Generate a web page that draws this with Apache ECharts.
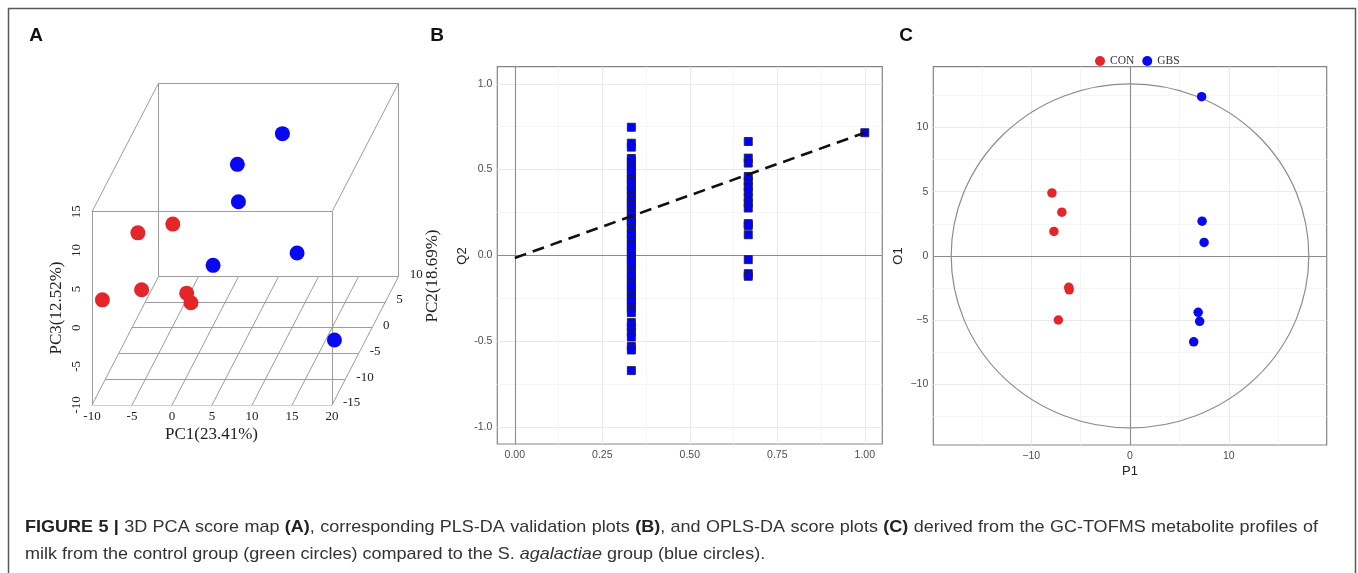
<!DOCTYPE html>
<html>
<head>
<meta charset="utf-8">
<script src="https://cdn.jsdelivr.net/npm/echarts@6/dist/echarts.min.js"></script>
<style>
html,body{margin:0;padding:0;background:#fff;}
#chart{width:1358px;height:573px;}
</style>
</head>
<body>
<div id="chart"></div>
<script>
// ---------- Panel A: 3D PCA scores [PC1, PC2, PC3] ----------
const pcaCON = [[-8.6, -2, 3.6], [-5.9, 3, 1.4], [-9.7, -12, 1.6], [-5.8, -9, 0.9], [-1.5, -5, -2.2], [-0.3, -7, -2.1]];
const pcaGBS = [[6.8, 6, 11.1], [2.5, 2, 9.8], [4.3, -3, 8.3], [9.3, 4, -3.0], [-0.2, 1, -2.6], [19.3, -12, -3.6]];
const pc1Ticks = [-10, -5, 0, 5, 10, 15, 20];
const pc2Ticks = [-15, -10, -5, 0, 5, 10];
const pc3Ticks = [-10, -5, 0, 5, 10, 15];

// ---------- Panel B: permutation test (R2 vs Q2) ----------
const permR2A = 0.333;
const permQ2A = [0.747, 0.654, 0.631, 0.565, 0.548, 0.521, 0.503, 0.478, 0.452, 0.437, 0.409, 0.386, 0.371,
  0.342, 0.318, 0.297, 0.276, 0.251, 0.223, 0.204, 0.187, 0.158, 0.132, 0.118, 0.091, 0.064, 0.046, 0.021,
  -0.003, -0.027, -0.048, -0.072, -0.101, -0.119, -0.142, -0.171, -0.188, -0.213, -0.239, -0.262, -0.281,
  -0.309, -0.334, -0.392, -0.418, -0.447, -0.476, -0.531, -0.552, -0.672];
const permR2B = 0.667;
const permQ2B = [0.664, 0.567, 0.538, 0.460, 0.431, 0.402, 0.373, 0.334, 0.305, 0.276, 0.185, 0.173, 0.120, -0.025, -0.107, -0.122];
const origModel = [1.0, 0.715];
const q2Regression = [[0, -0.015], [1, 0.715]];
const bXTicks = [0, 0.25, 0.5, 0.75, 1];
const bXMinor = [0.125, 0.375, 0.625, 0.875];
const bYTicks = [-1, -0.5, 0, 0.5, 1];
const bYMinor = [-0.75, -0.25, 0.25, 0.75];

// ---------- Panel C: OPLS-DA scores [P1, O1] ----------
const oplsCON = [[-7.9, 4.9], [-6.9, 3.4], [-7.7, 1.9], [-6.2, -2.45], [-6.15, -2.65], [-7.25, -5.0]];
const oplsGBS = [[7.25, 12.4], [7.3, 2.7], [7.5, 1.05], [6.9, -4.4], [7.05, -5.1], [6.45, -6.7]];
const ellipseRadii = [18.1, 13.4];
const cXTicks = [-10, 0, 10];
const cXMinor = [-15, -5, 5, 15];
const cYTicks = [-10, -5, 0, 5, 10];
const cYMinor = [-12.5, -7.5, -2.5, 2.5, 7.5, 12.5];

// ---------- Caption ----------
const captionLine1 = ['{b|FIGURE}', '{b|5}', '{b||}', '3D', 'PCA', 'score', 'map', '{b|(A)},', 'corresponding',
  'PLS-DA', 'validation', 'plots', '{b|(B)},', 'and', 'OPLS-DA', 'score', 'plots', '{b|(C)}', 'derived', 'from',
  'the', 'GC-TOFMS', 'metabolite', 'profiles', 'of'];
const captionLine2 = 'milk from the control group (green circles) compared to the S. {i|agalactiae} group (blue circles).';

const RED = '#e4262b';
const BLUE = '#0808f2';
const SERIF = '"Liberation Serif", "Times New Roman", serif';
const SANS = '"Liberation Sans", Arial, sans-serif';

// Oblique projection of the 3D box onto a flat cartesian grid
const pc1Min = pc1Ticks[0], pc1Max = pc1Ticks[pc1Ticks.length - 1];
const pc2Min = pc2Ticks[0], pc2Max = pc2Ticks[pc2Ticks.length - 1];
const pc3Min = pc3Ticks[0], pc3Max = pc3Ticks[pc3Ticks.length - 1];
const DEPTH_X = 1 / 3, DEPTH_Y = 2 / 3;
function proj(p1, p2, p3) {
  return [p1 + (p2 - pc2Min) * DEPTH_X, p3 + (p2 - pc2Min) * DEPTH_Y];
}
const boxSegs = [];
pc2Ticks.forEach(v => boxSegs.push([proj(pc1Min, v, pc3Min), proj(pc1Max, v, pc3Min)]));
pc1Ticks.forEach(u => boxSegs.push([proj(u, pc2Min, pc3Min), proj(u, pc2Max, pc3Min)]));
[pc2Min, pc2Max].forEach(d => {
  boxSegs.push([proj(pc1Min, d, pc3Min), proj(pc1Min, d, pc3Max)]);
  boxSegs.push([proj(pc1Min, d, pc3Max), proj(pc1Max, d, pc3Max)]);
  boxSegs.push([proj(pc1Max, d, pc3Max), proj(pc1Max, d, pc3Min)]);
});
boxSegs.push([proj(pc1Min, pc2Min, pc3Max), proj(pc1Min, pc2Max, pc3Max)]);
boxSegs.push([proj(pc1Max, pc2Min, pc3Max), proj(pc1Max, pc2Max, pc3Max)]);

// text placed at data coordinates, shifted by a pixel offset
function labelSeries(grid, pts, texts, o) {
  return {
    type: 'custom', xAxisIndex: grid, yAxisIndex: grid, silent: true, z: 5,
    data: pts,
    renderItem: function (params, api) {
      const c = api.coord([api.value(0), api.value(1)]);
      return {
        type: 'text', x: c[0] + (o.dx || 0), y: c[1] + (o.dy || 0), rotation: o.rot || 0,
        style: { text: texts[params.dataIndex], font: o.font, fill: o.color || '#222',
                 align: o.align || 'center', verticalAlign: o.va || 'middle' }
      };
    }
  };
}

function gridLines(grid, xs, ys, xr, yr, color, width) {
  const d = [];
  xs.forEach(x => d.push({ coords: [[x, yr[0]], [x, yr[1]]] }));
  ys.forEach(y => d.push({ coords: [[xr[0], y], [xr[1], y]] }));
  return { type: 'lines', coordinateSystem: 'cartesian2d', xAxisIndex: grid, yAxisIndex: grid,
           silent: true, z: 1, data: d, lineStyle: { color: color, width: width, opacity: 1 } };
}

const bX = [-0.05, 1.05], bY = [-1.1, 1.1];
const cX = [-ellipseRadii[0] * 1.1, ellipseRadii[0] * 1.1];
const cY = [-ellipseRadii[1] * 1.1, ellipseRadii[1] * 1.1];
const minus = v => String(v).replace('-', '\u2212');

function ggAxis(grid, range, ticks, fmt, isX) {
  return {
    type: 'value', gridIndex: grid, min: range[0], max: range[1],
    axisLine: { show: false },
    splitLine: { show: false },
    axisTick: { show: true, customValues: ticks, length: 4, lineStyle: { color: '#333', width: 1 } },
    axisLabel: { show: true, customValues: ticks, formatter: fmt, color: '#4d4d4d', fontSize: 10.5,
                 fontFamily: SANS, margin: isX ? 6 : 5 }
  };
}

// ---- caption layout: first line justified between the two margins ----
const CAP_SIZE = 17, CAP_SX = 1.06, CAP_LEFT = 25, CAP_RIGHT = 1318;
const capRich = {
  b: { fontFamily: SANS, fontSize: CAP_SIZE, fontWeight: 'bold', fill: '#222' },
  i: { fontFamily: SANS, fontSize: CAP_SIZE, fontStyle: 'italic', fill: '#333' }
};
const measureCtx = document.createElement('canvas').getContext('2d');
function tokenWidth(tok) {
  let w = 0;
  tok.replace(/\{(\w+)\|([^}]*)\}|([^{]+)/g, function (m, k, t, p) {
    measureCtx.font = (k === 'b' ? 'bold ' : k === 'i' ? 'italic ' : '') + CAP_SIZE + 'px ' + SANS;
    w += measureCtx.measureText(k ? t : p).width;
    return m;
  });
  return w * CAP_SX;
}
const tokW = captionLine1.map(tokenWidth);
const gap = (CAP_RIGHT - CAP_LEFT - tokW.reduce((a, b) => a + b, 0)) / (captionLine1.length - 1);
const captionGraphics = [];
let cx = CAP_LEFT;
captionLine1.forEach((tok, i) => {
  captionGraphics.push({ type: 'text', x: cx, y: 527, scaleX: CAP_SX, silent: true,
    style: { text: tok, fontFamily: SANS, fontSize: CAP_SIZE, fill: '#333', verticalAlign: 'middle', rich: capRich } });
  cx += tokW[i] + gap;
});
captionGraphics.push({ type: 'text', x: CAP_LEFT, y: 554, scaleX: CAP_SX, silent: true,
  style: { text: captionLine2, fontFamily: SANS, fontSize: CAP_SIZE, fill: '#333', verticalAlign: 'middle', rich: capRich } });

const chart = echarts.init(document.getElementById('chart'), null, { renderer: 'canvas' });
chart.setOption({
  backgroundColor: '#fff',
  animation: false,
  legend: {
    data: ['CON', 'GBS'], left: 1090, top: 50, icon: 'circle', itemWidth: 10, itemHeight: 10, itemGap: 8,
    textStyle: { fontFamily: SERIF, fontSize: 11.5, color: '#333' }
  },
  grid: [
    { left: 92, top: 82.9, width: 306.7, height: 322.1, show: false },
    { left: 497.3, top: 66.7, width: 385, height: 377.3, show: true, borderColor: '#858585', borderWidth: 1.2, backgroundColor: '#fff' },
    { left: 933.3, top: 66.7, width: 393.4, height: 378.3, show: true, borderColor: '#858585', borderWidth: 1.2, backgroundColor: '#fff' }
  ],
  xAxis: [
    { type: 'value', gridIndex: 0, min: pc1Min, max: pc1Max + (pc2Max - pc2Min) * DEPTH_X, show: false },
    ggAxis(1, bX, bXTicks, v => v.toFixed(2), true),
    ggAxis(2, cX, cXTicks, v => minus(v), true)
  ],
  yAxis: [
    { type: 'value', gridIndex: 0, min: pc3Min, max: pc3Max + (pc2Max - pc2Min) * DEPTH_Y, show: false },
    ggAxis(1, bY, bYTicks, v => v.toFixed(1), false),
    ggAxis(2, cY, cYTicks, v => minus(v), false)
  ],
  series: [
    // Panel A: box and floor grid
    { type: 'lines', coordinateSystem: 'cartesian2d', xAxisIndex: 0, yAxisIndex: 0, silent: true, z: 1,
      data: boxSegs.map(s => ({ coords: s })), lineStyle: { color: '#9c9c9c', width: 1, opacity: 1 } },
    { name: 'CON', type: 'scatter', xAxisIndex: 0, yAxisIndex: 0, z: 3, symbolSize: 15,
      itemStyle: { color: RED, opacity: 1 }, data: pcaCON.map(p => proj(p[0], p[1], p[2])) },
    { name: 'GBS', type: 'scatter', xAxisIndex: 0, yAxisIndex: 0, z: 3, symbolSize: 15,
      itemStyle: { color: BLUE, opacity: 1 }, data: pcaGBS.map(p => proj(p[0], p[1], p[2])) },
    labelSeries(0, pc1Ticks.map(u => proj(u, pc2Min, pc3Min)), pc1Ticks.map(String),
      { dy: 12, font: '13px ' + SERIF }),
    labelSeries(0, pc3Ticks.map(w => proj(pc1Min, pc2Min, w)), pc3Ticks.map(String),
      { dx: -15, rot: Math.PI / 2, font: '13px ' + SERIF }),
    labelSeries(0, pc2Ticks.map(v => proj(pc1Max, v, pc3Min)), pc2Ticks.map(String),
      { dx: 11, dy: -2, align: 'left', font: '13px ' + SERIF }),

    // Panel B: grid, zero lines, permutation points, regression line
    gridLines(1, bXMinor, bYMinor, bX, bY, '#f3f3f3', 0.8),
    gridLines(1, bXTicks, bYTicks, bX, bY, '#e9e9e9', 1),
    gridLines(1, [0], [0], bX, bY, '#8c8c8c', 1.1),
    { type: 'scatter', xAxisIndex: 1, yAxisIndex: 1, z: 3, symbol: 'rect', symbolSize: 8,
      itemStyle: { color: '#0000ff', borderColor: '#1e1e46', borderWidth: 0.9, opacity: 1 },
      data: permQ2A.map(q => [permR2A, q]).concat(permQ2B.map(q => [permR2B, q]), [origModel]) },
    { type: 'line', xAxisIndex: 1, yAxisIndex: 1, z: 4, symbol: 'none', silent: true,
      lineStyle: { color: '#111', width: 2.6, type: [12, 7] }, data: q2Regression },

    // Panel C: grid, zero lines, Hotelling ellipse, scores
    gridLines(2, cXMinor, cYMinor, cX, cY, '#f3f3f3', 0.8),
    gridLines(2, cXTicks, cYTicks, cX, cY, '#e9e9e9', 1),
    gridLines(2, [0], [0], cX, cY, '#8c8c8c', 1.1),
    { type: 'custom', xAxisIndex: 2, yAxisIndex: 2, silent: true, z: 2, data: [[0, 0]],
      renderItem: function (params, api) {
        const c = api.coord([api.value(0), api.value(1)]);
        const s = api.size(ellipseRadii);
        return { type: 'path',
          shape: { pathData: 'M0 50 A50 50 0 1 0 100 50 A50 50 0 1 0 0 50 Z',
                   x: c[0] - s[0], y: c[1] - s[1], width: 2 * s[0], height: 2 * s[1], layout: 'cover' },
          style: { fill: 'none', stroke: '#8c8c8c', lineWidth: 1.2 } };
      } },
    { name: 'CON', type: 'scatter', xAxisIndex: 2, yAxisIndex: 2, z: 3, symbolSize: 9.5,
      itemStyle: { color: RED, opacity: 1 }, data: oplsCON },
    { name: 'GBS', type: 'scatter', xAxisIndex: 2, yAxisIndex: 2, z: 3, symbolSize: 9.5,
      itemStyle: { color: BLUE, opacity: 1 }, data: oplsGBS }
  ],
  graphic: [
    // figure frame
    { type: 'polyline', silent: true, shape: { points: [[8.5, 600], [8.5, 8.5], [1355.5, 8.5], [1355.5, 600]] },
      style: { stroke: '#5a5a5a', lineWidth: 1.5, fill: 'none' } },
    // panel letters
    { type: 'text', x: 36, y: 36, style: { text: 'A', font: 'bold 19px ' + SANS, fill: '#111', align: 'center', verticalAlign: 'middle' } },
    { type: 'text', x: 437, y: 36, style: { text: 'B', font: 'bold 19px ' + SANS, fill: '#111', align: 'center', verticalAlign: 'middle' } },
    { type: 'text', x: 906, y: 36, style: { text: 'C', font: 'bold 19px ' + SANS, fill: '#111', align: 'center', verticalAlign: 'middle' } },
    // panel A axis titles
    { type: 'text', x: 211.5, y: 435, style: { text: 'PC1(23.41%)', font: '17px ' + SERIF, fill: '#222', align: 'center', verticalAlign: 'middle' } },
    { type: 'text', x: 57, y: 308, rotation: Math.PI / 2, style: { text: 'PC3(12.52%)', font: '17px ' + SERIF, fill: '#222', align: 'center', verticalAlign: 'middle' } },
    { type: 'text', x: 433, y: 276, rotation: Math.PI / 2, style: { text: 'PC2(18.69%)', font: '17px ' + SERIF, fill: '#222', align: 'center', verticalAlign: 'middle' } },
    // panel B / C axis titles
    { type: 'text', x: 462, y: 256, rotation: Math.PI / 2, style: { text: 'Q2', font: '13px ' + SANS, fill: '#222', align: 'center', verticalAlign: 'middle' } },
    { type: 'text', x: 898, y: 256, rotation: Math.PI / 2, style: { text: 'O1', font: '13px ' + SANS, fill: '#222', align: 'center', verticalAlign: 'middle' } },
    { type: 'text', x: 1130, y: 471, style: { text: 'P1', font: '13px ' + SANS, fill: '#222', align: 'center', verticalAlign: 'middle' } }
  ].concat(captionGraphics)
});
</script>
</body>
</html>
